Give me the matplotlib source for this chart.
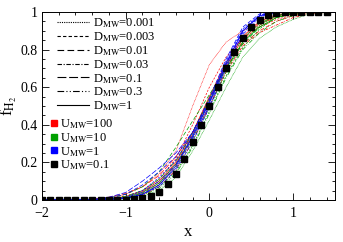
import numpy as np
import matplotlib
matplotlib.use("Agg")
import matplotlib.pyplot as plt
from matplotlib.lines import Line2D
from matplotlib.ticker import MultipleLocator, FixedLocator, FixedFormatter

plt.rcParams['font.family'] = ['Liberation Serif', 'DejaVu Serif']
plt.rcParams['mathtext.fontset'] = 'stix'

## data ##
# black squares (U_MW = 0.1 reference)
x_sq = [-2.0, -1.9, -1.8, -1.7, -1.6, -1.5, -1.4, -1.3, -1.2, -1.1, -1.0, -0.9, -0.8,
        -0.7, -0.6, -0.5, -0.4, -0.3, -0.2, -0.1, 0.0, 0.1, 0.2, 0.3, 0.4, 0.5, 0.6,
        0.7, 0.8, 0.9, 1.0, 1.1, 1.2, 1.3, 1.4]
f_sq = [0, 0, 0, 0, 0, 0, 0, 0, 0, 0.001, 0.002, 0.005, 0.01,
        0.02, 0.04, 0.085, 0.14, 0.218, 0.307, 0.40, 0.50, 0.60, 0.70, 0.786, 0.86, 0.918, 0.955,
        0.982, 0.993, 0.998, 1.0, 1.0, 1.0, 1.0, 1.0]

# curves, sampled at x_c
x_c = [-2.0, -1.4, -1.2, -1.0, -0.8, -0.6, -0.4, -0.2, 0.0, 0.2, 0.4, 0.6, 0.8, 1.0, 1.2, 1.5]
d_values = ['0.001', '0.003', '0.01', '0.03', '0.1', '0.3', '1']

red = [
    [0, 0.003, 0.01, 0.03, 0.07, 0.14, 0.26, 0.50, 0.72, 0.84, 0.90, 0.94, 0.97, 0.99, 1, 1],
    [0, 0.002, 0.008, 0.02, 0.05, 0.11, 0.22, 0.40, 0.60, 0.76, 0.86, 0.92, 0.96, 0.985, 0.997, 1],
    [0, 0, 0.004, 0.012, 0.035, 0.09, 0.19, 0.35, 0.54, 0.71, 0.83, 0.90, 0.95, 0.98, 0.995, 1],
    [0, 0, 0.003, 0.01, 0.03, 0.08, 0.18, 0.33, 0.50, 0.68, 0.82, 0.89, 0.93, 0.97, 0.99, 1],
    [0, 0.004, 0.015, 0.035, 0.07, 0.13, 0.23, 0.36, 0.53, 0.71, 0.86, 0.94, 0.98, 0.995, 1, 1],
    [0, 0, 0.002, 0.008, 0.025, 0.07, 0.16, 0.31, 0.50, 0.69, 0.85, 0.93, 0.975, 0.99, 1, 1],
    [0, 0.002, 0.006, 0.018, 0.045, 0.10, 0.20, 0.36, 0.55, 0.73, 0.87, 0.95, 0.985, 0.997, 1, 1],
]
green = [
    [0, 0, 0.002, 0.006, 0.02, 0.05, 0.12, 0.26, 0.425, 0.60, 0.76, 0.86, 0.92, 0.96, 0.99, 1],
    [0, 0, 0.003, 0.01, 0.03, 0.07, 0.15, 0.29, 0.47, 0.66, 0.81, 0.91, 0.97, 0.99, 1, 1],
    [0, 0.003, 0.012, 0.03, 0.07, 0.15, 0.28, 0.42, 0.56, 0.70, 0.83, 0.92, 0.97, 0.99, 1, 1],
    [0, 0, 0.004, 0.012, 0.035, 0.08, 0.17, 0.32, 0.49, 0.68, 0.84, 0.93, 0.98, 0.995, 1, 1],
    [0, 0.002, 0.008, 0.02, 0.05, 0.11, 0.21, 0.36, 0.54, 0.72, 0.86, 0.94, 0.98, 0.995, 1, 1],
    [0, 0, 0.003, 0.009, 0.025, 0.06, 0.14, 0.28, 0.46, 0.65, 0.80, 0.89, 0.95, 0.98, 0.995, 1],
    [0, 0, 0.005, 0.014, 0.04, 0.09, 0.19, 0.34, 0.52, 0.70, 0.84, 0.92, 0.97, 0.99, 1, 1],
]
blue = [
    [0, 0, 0.003, 0.01, 0.03, 0.08, 0.17, 0.33, 0.51, 0.72, 0.90, 0.98, 1, 1, 1, 1],
    [0, 0, 0.005, 0.015, 0.05, 0.12, 0.21, 0.35, 0.53, 0.74, 0.91, 0.985, 1, 1, 1, 1],
    [0, 0.002, 0.01, 0.03, 0.08, 0.15, 0.23, 0.36, 0.54, 0.75, 0.92, 0.99, 1, 1, 1, 1],
    [0, 0, 0.002, 0.008, 0.03, 0.07, 0.16, 0.31, 0.49, 0.70, 0.89, 0.975, 0.998, 1, 1, 1],
    [0, 0.003, 0.015, 0.04, 0.10, 0.17, 0.25, 0.36, 0.52, 0.72, 0.90, 0.98, 1, 1, 1, 1],
    [0, 0, 0.004, 0.012, 0.04, 0.10, 0.19, 0.33, 0.50, 0.71, 0.88, 0.97, 0.997, 1, 1, 1],
    [0, 0, 0.002, 0.01, 0.03, 0.08, 0.18, 0.34, 0.52, 0.73, 0.90, 0.98, 1, 1, 1, 1],
]
u_labels = ['100', '10', '1', '0.1']
u_colors = ['#ff0000', '#00a000', '#0000ff', 'black']

# dash patterns, one per D value
dashes = [(1, 1), (3, 2), (6, 3), (4, 1.5, 1, 1.5), (8, 2.5), (6, 2, 1, 2, 1, 2), None]

fig = plt.figure(figsize=(3.43, 2.42), dpi=100)
ax = fig.add_axes([0.1224, 0.1736, 0.854, 0.777])

for series, col in zip([red, green, blue], u_colors[:3]):
    for vals, ds in zip(series, dashes):
        ln, = ax.plot(x_c, vals, color=col, lw=0.5)
        if ds is not None:
            ln.set_dashes(ds)

ax.plot(x_sq, f_sq, 's', color='black', ms=5, ls='none', zorder=5)

ax.set_xlim(-2, 1.5)
ax.set_ylim(0, 1)
ax.xaxis.set_major_locator(MultipleLocator(1))
ax.xaxis.set_minor_locator(MultipleLocator(0.2))
ax.yaxis.set_major_locator(FixedLocator([0, 0.2, 0.4, 0.6, 0.8, 1.0]))
ax.yaxis.set_major_formatter(FixedFormatter(['0', '0.2', '0.4', '0.6', '0.8', '1']))
ax.yaxis.set_minor_locator(MultipleLocator(0.05))
ax.tick_params(which='both', direction='in', top=True, right=True, labelsize=10, width=0.6)
ax.tick_params(which='major', length=5)
ax.tick_params(axis='x', which='major', pad=5)
ax.tick_params(axis='y', which='major', pad=3)
ax.tick_params(which='minor', length=2.5)
for sp in ax.spines.values():
    sp.set_linewidth(0.7)

ax.set_xlabel('x', fontsize=12)
ax.set_ylabel('f$_{\\rm H_2}$', fontsize=12)
ax.xaxis.set_label_coords(0.5, -0.13)
ax.yaxis.set_label_coords(-0.08, 0.5)

# legend for D
d_handles = []
for dv, ds in zip(d_values, dashes):
    h = Line2D([], [], color='black', lw=0.8)
    if ds is not None:
        h.set_dashes(ds)
    d_handles.append(h)
d_labels = ['D$_{\\rm MW}$=' + dv for dv in d_values]
leg1 = ax.legend(d_handles, d_labels, loc='upper left', bbox_to_anchor=(0.05, 0.975),
                 frameon=False, fontsize=9, handlelength=2.6, handletextpad=0.3,
                 labelspacing=0.0, borderpad=0, borderaxespad=0)
ax.add_artist(leg1)

u_handles = [Line2D([], [], marker='s', color=c, ls='none', ms=5) for c in u_colors]
u_lbls = ['U$_{\\rm MW}$=' + u for u in u_labels]
ax.legend(u_handles, u_lbls, loc='upper left', bbox_to_anchor=(0.025, 0.44),
          frameon=False, fontsize=9, handlelength=0.7, handletextpad=0.15,
          labelspacing=0.0, borderpad=0, borderaxespad=0)

fig.savefig('out.png', dpi=100)
